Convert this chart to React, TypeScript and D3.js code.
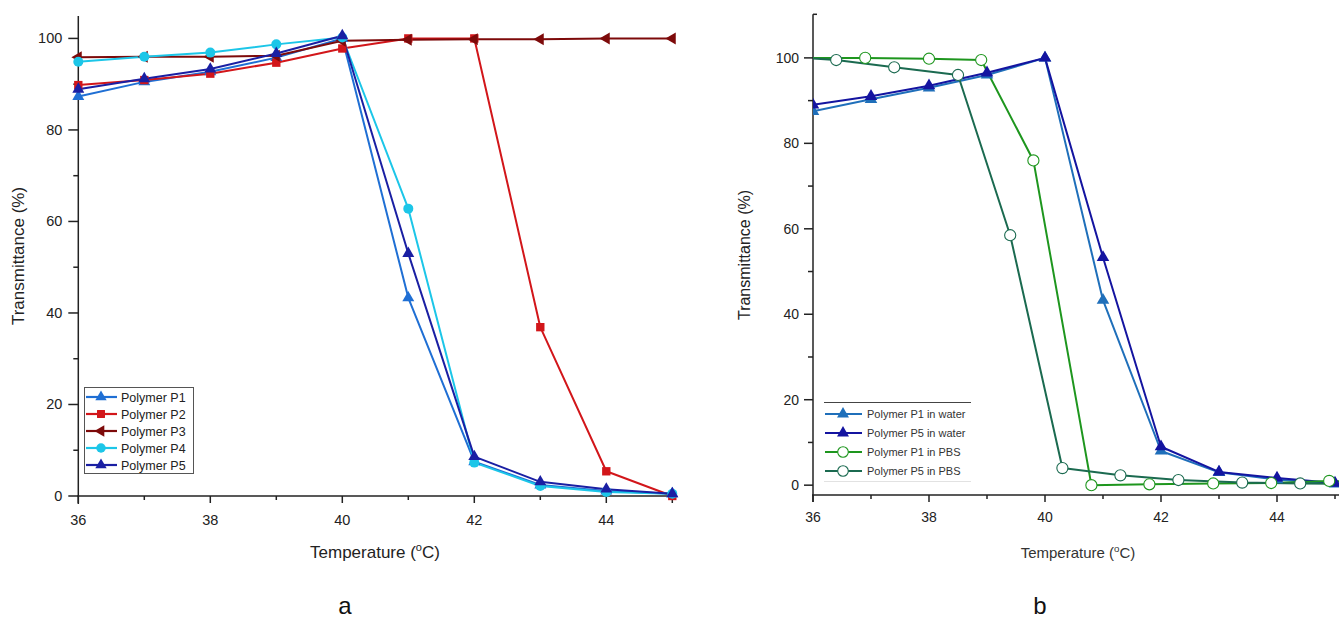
import React from 'react';
import * as d3 from 'd3';

// panel a: transmittance vs temperature, one reading per degree
const temps = [36, 37, 38, 39, 40, 41, 42, 43, 44, 45];
const polyP1 = [87.3, 90.5, 92.7, 95.8, 100, 43.3, 7.5, 2.4, 1.1, 0.5];
const polyP2 = [89.8, 90.9, 92.3, 94.7, 97.8, 100, 100, 36.9, 5.4, 0];
const polyP3 = [95.9, 96, 96, 96.2, 99.5, 99.7, 99.8, 99.8, 100, 100];
const polyP4 = [94.9, 96, 96.9, 98.7, 100.2, 62.8, 7.3, 2.2, 0.9, 0.5];
const polyP5 = [88.9, 91.2, 93.3, 96.7, 100.6, 53, 8.6, 3.1, 1.5, 0.5];
const namesA = ['Polymer P1', 'Polymer P2', 'Polymer P3', 'Polymer P4', 'Polymer P5'];

// panel b
const waterP1 = [87.5, 90.3, 93, 96, 100, 43.3, 8, 3, 1.3, 0.3];
const waterP5 = [89, 91, 93.5, 96.5, 100, 53.3, 9, 3.1, 1.7, 0.5];
const pbsP1Temp = [35.8, 36.9, 38, 38.9, 39.8, 40.8, 41.8, 42.9, 43.9, 44.9, 45.4];
const pbsP1 = [100, 100, 99.8, 99.5, 76, 0, 0.2, 0.4, 0.5, 1.0, 0.7];
const pbsP5Temp = [35.8, 36.4, 37.4, 38.5, 39.4, 40.3, 41.3, 42.3, 43.4, 44.4, 45.4];
const pbsP5 = [100, 99.5, 97.8, 96, 58.5, 4, 2.3, 1.2, 0.6, 0.4, 0.3];
const namesB = ['Polymer P1 in water', 'Polymer P5 in water', 'Polymer P1 in PBS', 'Polymer P5 in PBS'];

const xTicks = [36, 38, 40, 42, 44];
const xMinor = [37, 39, 41, 43, 45];
const yTicks = [0, 20, 40, 60, 80, 100];
const yMinor = [10, 30, 50, 70, 90];

const font = 'Arial, "Liberation Sans", sans-serif';

type Mark = 'tri' | 'square' | 'left' | 'circle' | 'open';

function Marker({ x, y, kind, color, s = 1 }: { x: number; y: number; kind: Mark; color: string; s?: number }) {
  if (kind === 'circle') return <circle cx={x} cy={y} r={5 * s} fill={color} />;
  if (kind === 'open') return <circle cx={x} cy={y} r={5.3 * s} fill="#fff" stroke={color} strokeWidth={1.1} />;
  if (kind === 'square') {
    const p = d3.symbol(d3.symbolSquare, 70 * s * s)()!;
    return <path d={p} transform={`translate(${x},${y})`} fill={color} />;
  }
  const p = d3.symbol(d3.symbolTriangle, 62 * s * s)()!;
  const rot = kind === 'left' ? -90 : 0;
  return <path d={p} transform={`translate(${x},${y}) rotate(${rot})`} fill={color} />;
}

function TempLabel({ x, y, size, color }: { x: number; y: number; size: number; color: string }) {
  return (
    <text x={x} y={y} textAnchor="middle" fontSize={size} fontFamily={font} fill={color}>
      Temperature (<tspan dy={-size * 0.4} fontSize={size * 0.65}>o</tspan>
      <tspan dy={size * 0.4}>C)</tspan>
    </text>
  );
}

export default function App() {
  // ---------- panel a ----------
  const xa = d3.scaleLinear().domain([36, 45]).range([78.3, 672.3]);
  const ya = d3.scaleLinear().domain([0, 104.9]).range([496, 16]);
  const seriesA = [
    { v: polyP1, c: '#1f6fd4', m: 'tri' as Mark },
    { v: polyP2, c: '#d2161a', m: 'square' as Mark },
    { v: polyP3, c: '#7d0a0a', m: 'left' as Mark },
    { v: polyP4, c: '#1cc6e8', m: 'circle' as Mark },
    { v: polyP5, c: '#1a1fa3', m: 'tri' as Mark },
  ];
  const lineA = d3.line<number>().x((_, i) => xa(temps[i])).y(d => ya(d));

  // ---------- panel b ----------
  const xb = d3.scaleLinear().domain([36, 45]).range([813, 1335]);
  const yb = d3.scaleLinear().domain([-2.3, 110.2]).range([495, 14.3]);
  const seriesB = [
    { t: temps, v: waterP1, c: '#1f6fba', m: 'tri' as Mark },
    { t: temps, v: waterP5, c: '#1414a0', m: 'tri' as Mark },
    { t: pbsP1Temp, v: pbsP1, c: '#1e961e', m: 'open' as Mark },
    { t: pbsP5Temp, v: pbsP5, c: '#1b6a50', m: 'open' as Mark },
  ];

  const axisColor = '#222';

  return (
    <svg width={1339} height={622} style={{ position: 'absolute', left: 0, top: 0, background: '#fff' }}>
      <defs>
        <clipPath id="clipB">
          <rect x={813} y={0} width={540} height={495} />
        </clipPath>
      </defs>

      {/* ===== panel a axes ===== */}
      <g stroke={axisColor} strokeWidth={1.5}>
        <line x1={xa(36)} x2={xa(36)} y1={ya(104.9)} y2={ya(0) + 8} />
        <line x1={xa(36) - 1} x2={xa(45)} y1={ya(0)} y2={ya(0)} />
        {xTicks.concat([45]).map(t => (
          <line key={'xa' + t} x1={xa(t)} x2={xa(t)} y1={ya(0)} y2={ya(0) + 7} />
        ))}
        {xMinor.slice(0, 4).map(t => (
          <line key={'xam' + t} x1={xa(t)} x2={xa(t)} y1={ya(0)} y2={ya(0) + 4} />
        ))}
        {yTicks.map(t => (
          <line key={'ya' + t} x1={xa(36) - 10} x2={xa(36)} y1={ya(t)} y2={ya(t)} />
        ))}
        {yMinor.map(t => (
          <line key={'yam' + t} x1={xa(36) - 5} x2={xa(36)} y1={ya(t)} y2={ya(t)} />
        ))}
      </g>
      {xTicks.map(t => (
        <text key={'xal' + t} x={xa(t)} y={ya(0) + 29} textAnchor="middle" fontSize={14.5} fontFamily={font} fill="#222">
          {t}
        </text>
      ))}
      {yTicks.map(t => (
        <text key={'yal' + t} x={xa(36) - 16} y={ya(t) + 5} textAnchor="end" fontSize={14.5} fontFamily={font} fill="#222">
          {t}
        </text>
      ))}
      <text
        transform={`translate(24,256) rotate(-90)`}
        textAnchor="middle"
        fontSize={17}
        fontFamily={font}
        fill="#222"
      >
        Transmittance (%)
      </text>
      <TempLabel x={375} y={558} size={17} color="#222" />
      <text x={345} y={614} textAnchor="middle" fontSize={24} fontFamily={font} fill="#111">a</text>

      {/* panel a series */}
      {seriesA.map((s, k) => (
        <path key={'la' + k} d={lineA(s.v) || ''} fill="none" stroke={s.c} strokeWidth={2} strokeLinejoin="round" />
      ))}
      {seriesA.map((s, k) => (
        <g key={'ma' + k}>
          {s.v.map((v, i) => (
            <Marker key={i} x={xa(temps[i])} y={ya(v)} kind={s.m} color={s.c} />
          ))}
        </g>
      ))}

      {/* panel a legend */}
      <rect x={84.5} y={387.5} width={109} height={86} fill="#fff" stroke="#555" strokeWidth={1} />
      {seriesA.map((s, k) => {
        const ly = 397 + k * 17;
        return (
          <g key={'lga' + k}>
            <line x1={86} x2={117} y1={ly} y2={ly} stroke={s.c} strokeWidth={2.2} />
            <Marker x={101} y={ly} kind={s.m} color={s.c} s={0.95} />
            <text x={121} y={ly + 4.5} fontSize={12.5} fontFamily={font} fill="#222">{namesA[k]}</text>
          </g>
        );
      })}

      {/* ===== panel b axes ===== */}
      <g stroke={axisColor} strokeWidth={1.5}>
        <line x1={xb(36)} x2={xb(36)} y1={yb(110.2)} y2={yb(-2.3) + 7} />
        <line x1={xb(36) - 1} x2={1339} y1={yb(-2.3)} y2={yb(-2.3)} />
        <line x1={xb(36)} x2={xb(36) + 4} y1={yb(110.2)} y2={yb(110.2)} />
        {xTicks.map(t => (
          <line key={'xb' + t} x1={xb(t)} x2={xb(t)} y1={yb(-2.3)} y2={yb(-2.3) + 7} />
        ))}
        {xMinor.map(t => (
          <line key={'xbm' + t} x1={xb(t)} x2={xb(t)} y1={yb(-2.3)} y2={yb(-2.3) + 4} />
        ))}
        {yTicks.map(t => (
          <line key={'yb' + t} x1={xb(36) - 9} x2={xb(36)} y1={yb(t)} y2={yb(t)} />
        ))}
        {yMinor.map(t => (
          <line key={'ybm' + t} x1={xb(36) - 5} x2={xb(36)} y1={yb(t)} y2={yb(t)} />
        ))}
      </g>
      {xTicks.map(t => (
        <text key={'xbl' + t} x={xb(t)} y={yb(-2.3) + 27} textAnchor="middle" fontSize={14} fontFamily={font} fill="#222">
          {t}
        </text>
      ))}
      {yTicks.map(t => (
        <text key={'ybl' + t} x={xb(36) - 14} y={yb(t) + 5} textAnchor="end" fontSize={14} fontFamily={font} fill="#222">
          {t}
        </text>
      ))}
      <text
        transform={`translate(750,255) rotate(-90)`}
        textAnchor="middle"
        fontSize={16}
        fontFamily={font}
        fill="#222"
      >
        Transmittance (%)
      </text>
      <TempLabel x={1078} y={558} size={15} color="#333" />
      <text x={1040} y={614} textAnchor="middle" fontSize={24} fontFamily={font} fill="#111">b</text>

      {/* panel b series */}
      <g clipPath="url(#clipB)">
        {seriesB.map((s, k) => {
          const ln = d3.line<number>().x((_, i) => xb(s.t[i])).y(d => yb(d));
          return <path key={'lb' + k} d={ln(s.v) || ''} fill="none" stroke={s.c} strokeWidth={2} strokeLinejoin="round" />;
        })}
        {seriesB.map((s, k) => (
          <g key={'mb' + k}>
            {s.v.map((v, i) => (
              <Marker key={i} x={xb(s.t[i])} y={yb(v)} kind={s.m} color={s.c} s={1.05} />
            ))}
          </g>
        ))}
      </g>

      {/* panel b legend */}
      <line x1={824} x2={971} y1={402.5} y2={402.5} stroke="#444" strokeWidth={1} />
      <line x1={824} x2={971} y1={481.5} y2={481.5} stroke="#e2e2e2" strokeWidth={1} />
      {seriesB.map((s, k) => {
        const ly = 414 + k * 19;
        return (
          <g key={'lgb' + k}>
            <line x1={825} x2={862} y1={ly} y2={ly} stroke={s.c} strokeWidth={2.2} />
            <Marker x={843} y={ly} kind={s.m} color={s.c} s={1} />
            <text x={867} y={ly + 4} fontSize={11} fontFamily={font} fill="#333">{namesB[k]}</text>
          </g>
        );
      })}
    </svg>
  );
}
